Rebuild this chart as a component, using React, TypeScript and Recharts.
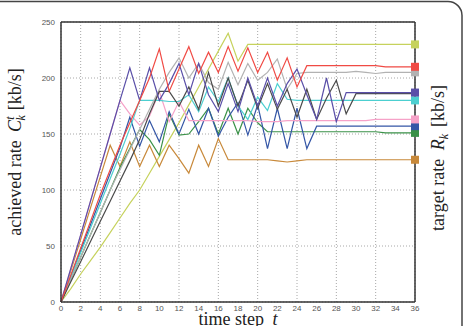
import React from 'react';
import { LineChart, Line, XAxis, YAxis, CartesianGrid } from 'recharts';

// time steps 0..36
const steps = Array.from({ length: 37 }, (_, i) => i);
const xTicks = [0, 2, 4, 6, 8, 10, 12, 14, 16, 18, 20, 22, 24, 26, 28, 30, 32, 34, 36];
const yTicks = [0, 50, 100, 150, 200, 250];

// achieved rate per user, one value per time step
const yellow = [0, 12, 25, 37, 49, 62, 75, 88, 100, 115, 130, 145, 160, 176, 192, 208, 224, 240, 215, 230,
  230, 230, 230, 230, 230, 230, 230, 230, 230, 230, 230, 230, 230, 230, 230, 230, 230];
const red = [0, 24, 48, 72, 96, 118, 140, 160, 180, 200, 226, 188, 208, 228, 204, 223, 205, 228, 206, 227,
  205, 223, 198, 218, 192, 211, 211, 211, 211, 211, 211, 211, 211, 210, 210, 210, 210];
const gray = [0, 20, 40, 60, 80, 100, 118, 136, 154, 172, 190, 205, 218, 200, 213, 196, 190, 214, 194, 213,
  198, 205, 217, 190, 204, 205, 205, 205, 205, 205, 206, 205, 204, 205, 205, 205, 205];
const cyan = [0, 22, 44, 66, 88, 110, 132, 155, 180, 180, 180, 179, 179, 185, 170, 192, 179, 200, 175, 163,
  183, 171, 195, 181, 180, 180, 180, 180, 180, 180, 180, 180, 180, 180, 180, 180, 180];
const pink = [0, 30, 60, 90, 120, 150, 180, 168, 158, 166, 188, 161, 179, 162, 162, 162, 162, 162, 162, 162,
  161, 161, 161, 162, 162, 162, 162, 162, 162, 162, 162, 162, 163, 163, 163, 163, 163];
const navy = [0, 23, 46, 69, 92, 115, 138, 165, 139, 162, 143, 170, 150, 172, 150, 173, 148, 165, 178, 149,
  176, 137, 173, 137, 173, 137, 157, 157, 157, 157, 157, 157, 157, 157, 157, 157, 157];
const green = [0, 20, 40, 60, 80, 100, 120, 137, 154, 145, 131, 168, 149, 150, 161, 173, 150, 173, 150, 173,
  160, 152, 152, 152, 152, 152, 152, 152, 152, 152, 152, 152, 152, 151, 151, 151, 151];
const brown = [0, 28, 56, 84, 112, 140, 121, 143, 121, 140, 121, 140, 128, 115, 140, 121, 146, 127, 127, 127,
  127, 127, 126, 125, 126, 127, 127, 127, 127, 127, 127, 127, 127, 127, 127, 127, 127];
const violet = [0, 30, 60, 90, 120, 150, 180, 209, 180, 209, 180, 195, 213, 185, 213, 185, 170, 195, 170, 200,
  175, 200, 175, 195, 208, 185, 163, 200, 161, 187, 187, 187, 187, 187, 187, 187, 187];
const black = [0, 18, 36, 54, 72, 90, 108, 126, 145, 168, 188, 188, 175, 192, 172, 205, 175, 200, 175, 198,
  173, 195, 172, 190, 165, 190, 163, 182, 198, 168, 186, 186, 186, 186, 186, 186, 186];

const series = [
  { key: 'yellow', values: yellow, color: '#c6d25c', marker: true },
  { key: 'brown', values: brown, color: '#c8893a', marker: true },
  { key: 'green', values: green, color: '#3a9148', marker: true },
  { key: 'navy', values: navy, color: '#3456a6', marker: true },
  { key: 'pink', values: pink, color: '#f6a2c8', marker: true },
  { key: 'cyan', values: cyan, color: '#4ccfd0', marker: true },
  { key: 'gray', values: gray, color: '#b2b2b2', marker: true },
  { key: 'black', values: black, color: '#4a4a4a', marker: false },
  { key: 'violet', values: violet, color: '#5a4fa8', marker: true },
  { key: 'red', values: red, color: '#f04a44', marker: true },
];

const data = steps.map((t, i) => {
  const row: Record<string, number> = { t };
  series.forEach((s) => { row[s.key] = s.values[i]; });
  return row;
});

const tickFont = { fontSize: 8, fill: '#555', fontFamily: 'Liberation Sans, Arial, sans-serif' };
const frameLine = { stroke: '#333', strokeWidth: 1.5 };
const serif = 'Liberation Serif, Times New Roman, serif';

// square marker at the last step showing the target rate
const endMarker = (color: string, show: boolean) => (props: any) => {
  const { cx, cy, index } = props;
  if (!show || index !== steps.length - 1) return <g key={`e-${index}`} />;
  return <rect key={`m-${index}`} x={cx - 4} y={cy - 4} width={8} height={8} fill={color} />;
};

export default function App() {
  return (
    <div style={{ position: 'absolute', left: 0, top: 0, width: 463, height: 326, background: '#fff' }}>
      <LineChart width={463} height={326} data={data} margin={{ top: 22, right: 48, bottom: 0, left: 0 }}>
        <CartesianGrid strokeDasharray="1 2" stroke="#a8a8a8" />
        <XAxis dataKey="t" type="number" domain={[0, 36]} ticks={xTicks} height={24}
          tickLine={false} tickSize={0} tickMargin={3} axisLine={frameLine} tick={tickFont} />
        <XAxis xAxisId="bt" dataKey="t" type="number" domain={[0, 36]} ticks={xTicks} mirror
          tick={false} tickSize={4} axisLine={false} tickLine={{ stroke: '#444' }} />
        <XAxis xAxisId="top" dataKey="t" type="number" domain={[0, 36]} ticks={xTicks} orientation="top" mirror
          tick={false} tickSize={4} axisLine={frameLine} tickLine={{ stroke: '#444' }} />
        <YAxis type="number" domain={[0, 250]} ticks={yTicks} width={61}
          tickLine={false} tickSize={0} tickMargin={6} axisLine={frameLine} tick={tickFont} />
        <YAxis yAxisId="lt" type="number" domain={[0, 250]} ticks={yTicks} mirror
          tick={false} tickSize={4} axisLine={false} tickLine={{ stroke: '#444' }} />
        <YAxis yAxisId="r" type="number" domain={[0, 250]} ticks={yTicks} orientation="right" mirror
          tick={false} tickSize={4} axisLine={frameLine} tickLine={{ stroke: '#444' }} />
        {series.map((s) => (
          <Line key={s.key} type="linear" dataKey={s.key} stroke={s.color} strokeWidth={1.2}
            dot={endMarker(s.color, s.marker)} activeDot={false} isAnimationActive={false} />
        ))}
      </LineChart>
      <svg width={463} height={326} style={{ position: 'absolute', left: 0, top: 0, pointerEvents: 'none' }}>
        <rect x={-20} y={1.5} width={482} height={400} rx={14} fill="none" stroke="#444" strokeWidth={1.5} />
        <text transform="translate(21,152) rotate(-90)" textAnchor="middle" fontFamily={serif} fontSize={18} fill="#222">
          <tspan>achieved rate </tspan>
          <tspan fontStyle="italic" dx={4}>C</tspan>
          <tspan fontStyle="italic" fontSize={12} dy={-7}>t</tspan>
          <tspan fontStyle="italic" fontSize={12} dx={-4} dy={11}>k</tspan>
          <tspan dx={5} dy={-4}>[kb/s]</tspan>
        </text>
        <text transform="translate(444,158) rotate(-90)" textAnchor="middle" fontFamily={serif} fontSize={18} fill="#222">
          <tspan>target rate </tspan>
          <tspan fontStyle="italic" dx={4}>R</tspan>
          <tspan fontStyle="italic" fontSize={12} dy={4}>k</tspan>
          <tspan dx={7} dy={-4}>[kb/s]</tspan>
        </text>
        <text x={238} y={325} textAnchor="middle" fontFamily={serif} fontSize={18} fill="#222">
          <tspan>time step </tspan>
          <tspan fontStyle="italic" dx={4}>t</tspan>
        </text>
      </svg>
    </div>
  );
}
